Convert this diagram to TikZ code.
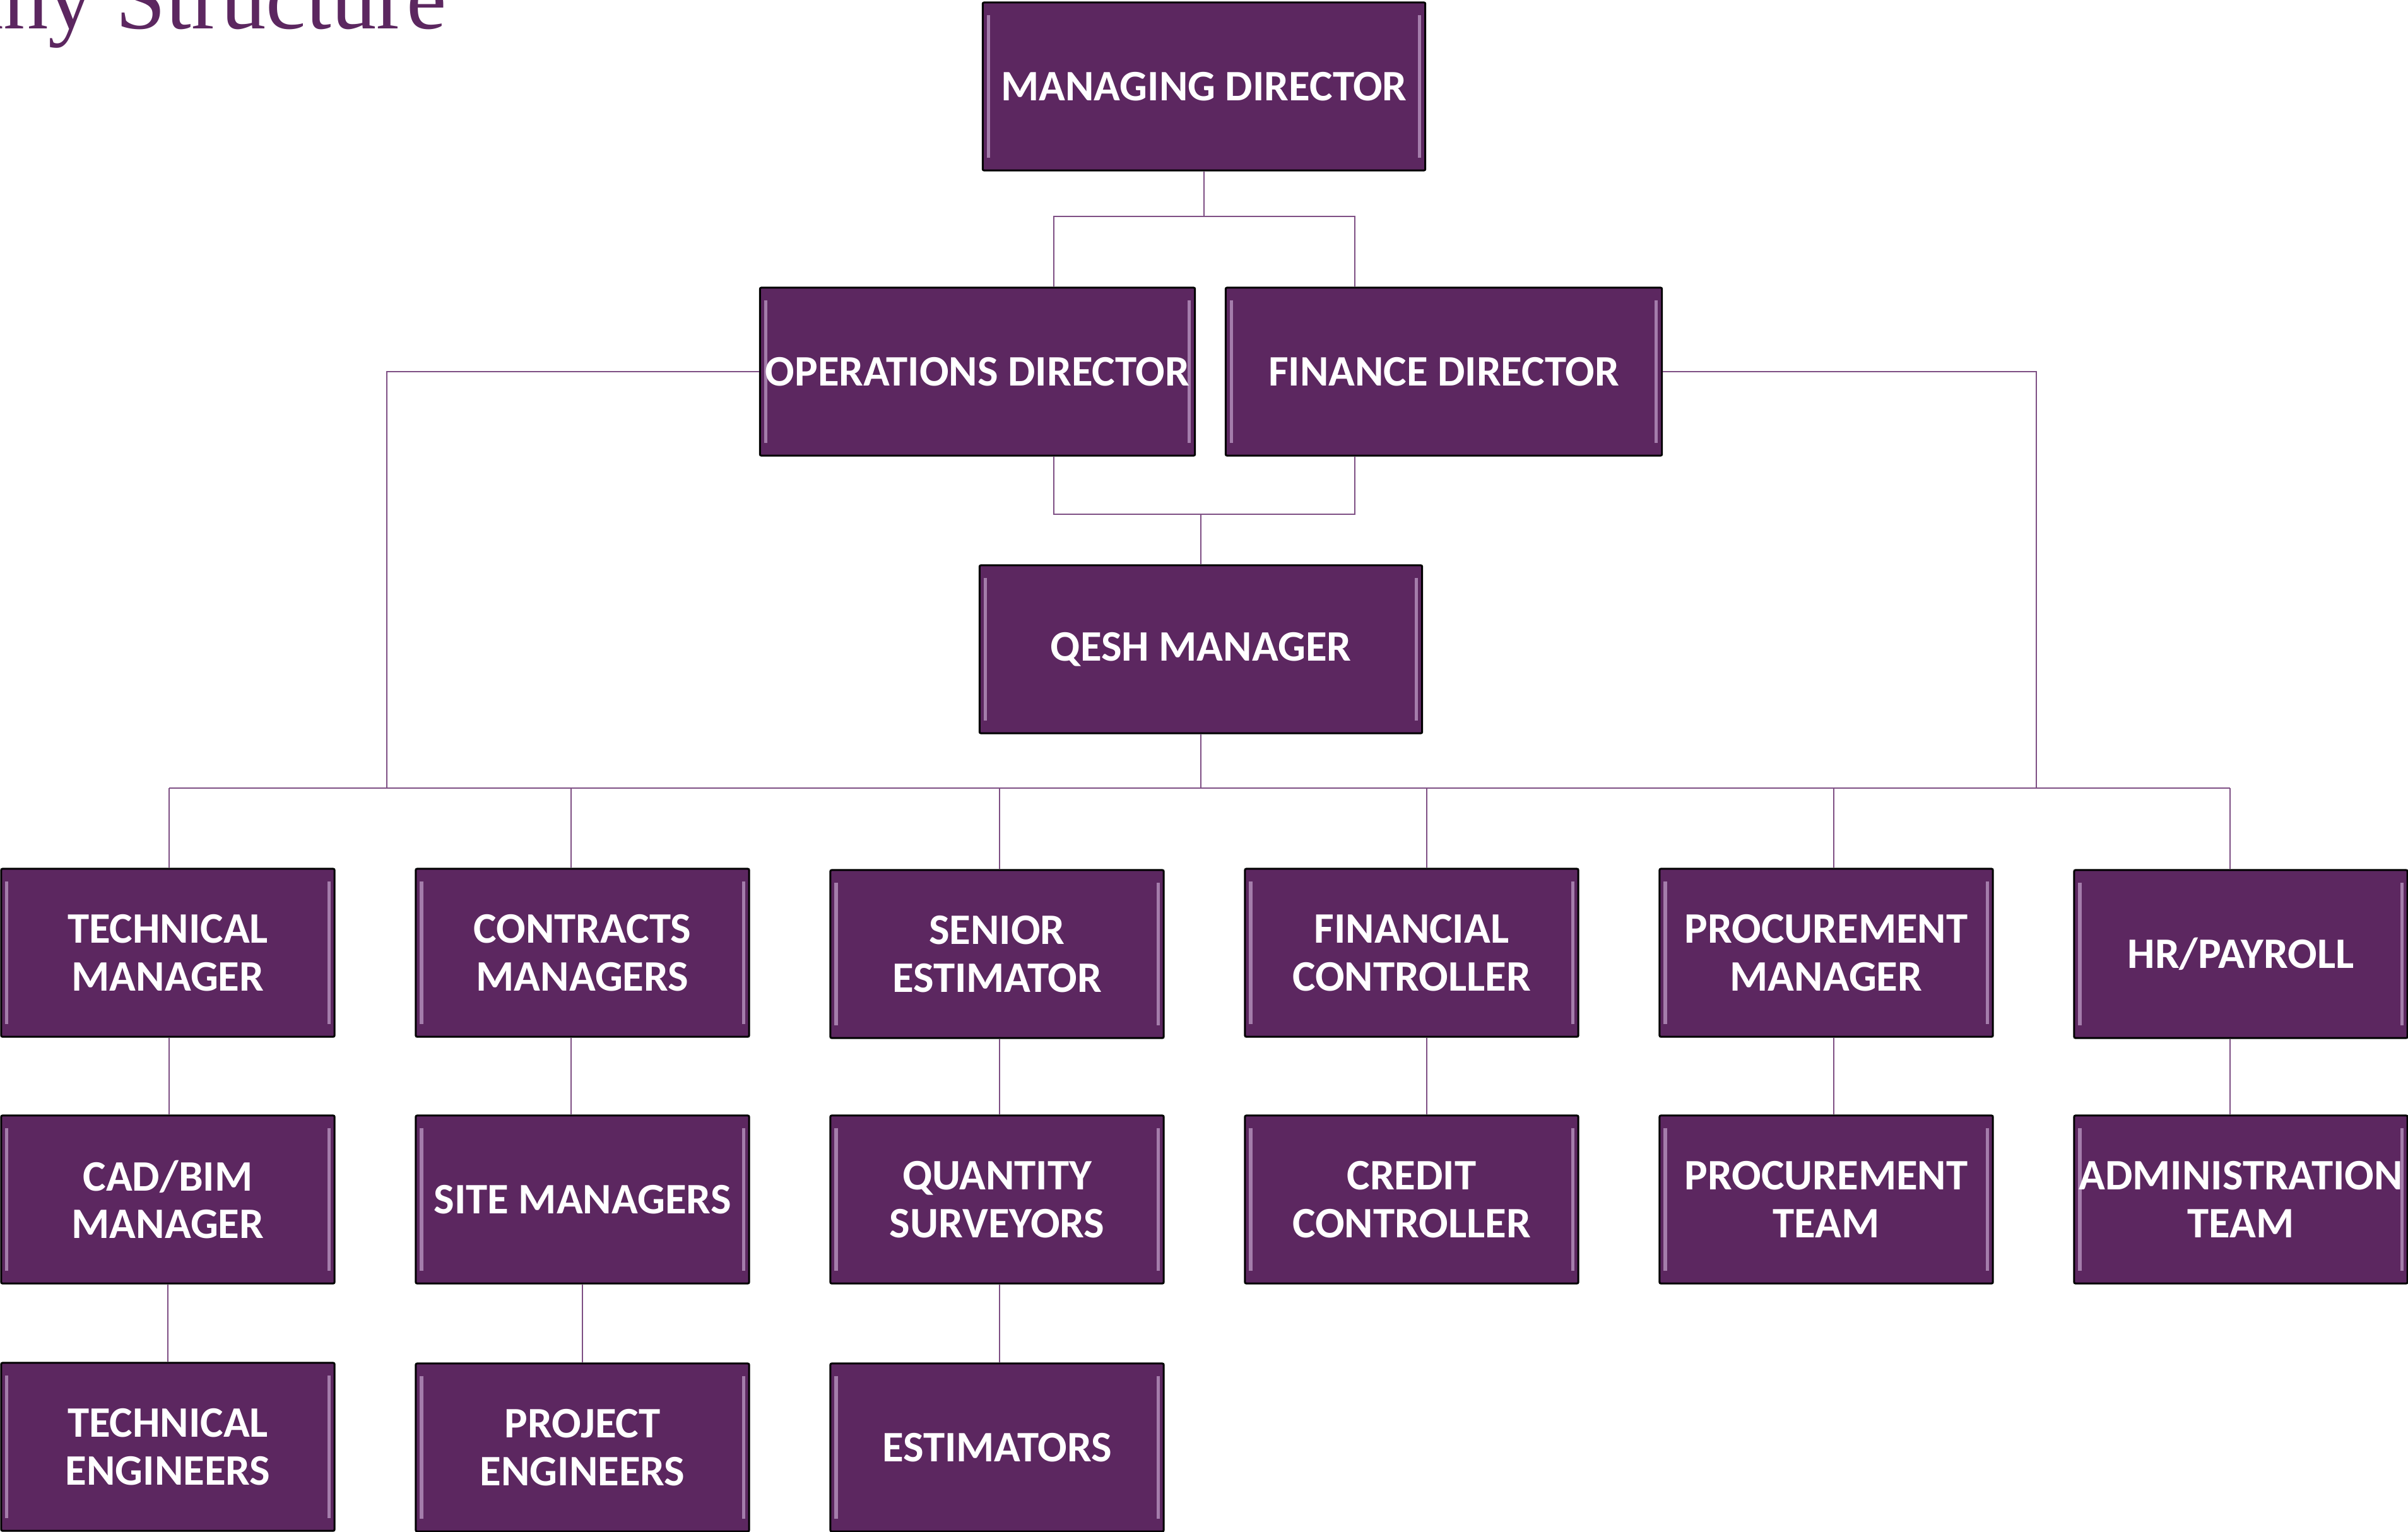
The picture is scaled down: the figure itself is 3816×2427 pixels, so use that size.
\documentclass[tikz,border=0pt]{standalone}
\usepackage{fontspec}
\usepackage{xcolor}
\usepackage{tikz}
\usetikzlibrary{calc}
\newfontfamily\postfont{Carlito}
\newfontfamily\titlefont{Liberation Serif}
\definecolor{postfill}{RGB}{92,39,96}
\definecolor{linkcol}{RGB}{126,79,132}
\definecolor{bevelcol}{RGB}{164,125,171}
\tikzstyle{post}=[rectangle, draw=black, fill=postfill, line width=0.85pt,% plain purple box
rounded corners=0.6pt, text=white, align=center, inner sep=0pt,
font=\postfont\bfseries\fontsize{19.6}{21.5}\selectfont,
minimum width=5.28cm, minimum height=2.66cm,
path picture={
\draw[bevelcol, line width=1.5pt] ([xshift=0.09cm,yshift=-0.2cm]path picture bounding box.north west) -- ([xshift=0.09cm,yshift=0.2cm]path picture bounding box.south west);
\draw[bevelcol, line width=1.5pt] ([xshift=-0.09cm,yshift=-0.2cm]path picture bounding box.north east) -- ([xshift=-0.09cm,yshift=0.2cm]path picture bounding box.south east);
}]
\tikzstyle{link}=[draw=linkcol, line width=0.6pt]

\begin{document}
\begin{tikzpicture}[x=0.01cm, y=-0.01cm]
\useasboundingbox (0,0) rectangle (3816,2427);
\clip (0,0) rectangle (3816,2427);
\node[anchor=base east, text=postfill, font=\titlefont\fontsize{40.6}{44}\selectfont, inner sep=0pt] (title) at (708,45) {Company Structure};

\node[post, minimum width=7.01cm] (md) at (1908,137) {MANAGING DIRECTOR};
\node[post, minimum width=6.89cm] (ops) at (1549,589) {OPERATIONS DIRECTOR};
\node[post, minimum width=6.91cm] (fin) at (2288,589) {FINANCE DIRECTOR};
\node[post, minimum width=7.01cm] (qesh) at (1903,1029) {QESH MANAGER};

\node[post] (tm) at (266,1510) {TECHNICAL\\MANAGER};
\node[post] (cm) at (923,1510) {CONTRACTS\\MANAGERS};
\node[post] (se) at (1580,1512) {SENIOR\\ESTIMATOR};
\node[post] (fc) at (2237,1510) {FINANCIAL\\CONTROLLER};
\node[post] (pm) at (2894,1510) {PROCUREMENT\\MANAGER};
\node[post] (hr) at (3551,1512) {HR/PAYROLL};

\node[post] (cad) at (266,1901) {CAD/BIM\\MANAGER};
\node[post] (site) at (923,1901) {SITE MANAGERS};
\node[post] (qs) at (1580,1901) {QUANTITY\\SURVEYORS};
\node[post] (cc) at (2237,1901) {CREDIT\\CONTROLLER};
\node[post] (pt) at (2894,1901) {PROCUREMENT\\TEAM};
\node[post] (adm) at (3551,1901) {ADMINISTRATION\\TEAM};

\node[post] (te) at (266,2293) {TECHNICAL\\ENGINEERS};
\node[post] (pe) at (923,2294) {PROJECT\\ENGINEERS};
\node[post] (est) at (1580,2294) {ESTIMATORS};

% junctions
\coordinate (t1) at (1670,343);
\coordinate (t2) at (2147,343);
\coordinate (q1) at (1670,815);
\coordinate (q2) at (2147,815);
\coordinate (l1) at (613,1249);
\coordinate (r1) at (3227,1249);
\coordinate (b1) at (268,1249);
\coordinate (b2) at (905,1249);
\coordinate (b3) at (1584,1249);
\coordinate (b4) at (2261,1249);
\coordinate (b5) at (2906,1249);
\coordinate (b6) at (3534,1249);

\draw[link] (md.south) -- (md.south |- t1);
\draw[link] (ops.north -| t1) -- (t1) -- (t2) -- (fin.north -| t2);
\draw[link] (ops.south -| q1) -- (q1) -- (q2) -- (fin.south -| q2);
\draw[link] (qesh.north) -- (qesh.north |- q1);
\draw[link] (qesh.south) -- (qesh.south |- b1);
\draw[link] (ops.west) -| (l1);
\draw[link] (fin.east) -| (r1);
\draw[link] (b1) -- (b6);

\draw[link] (b1) -- (b1 |- tm.north);
\draw[link] (b2) -- (b2 |- cm.north);
\draw[link] (b3) -- (b3 |- se.north);
\draw[link] (b4) -- (b4 |- fc.north);
\draw[link] (b5) -- (b5 |- pm.north);
\draw[link] (b6) -- (b6 |- hr.north);

\draw[link] (tm.south -| b1) -- (cad.north -| b1);
\draw[link] (cm.south -| b2) -- (site.north -| b2);
\draw[link] (se.south -| b3) -- (qs.north -| b3);
\draw[link] (fc.south -| b4) -- (cc.north -| b4);
\draw[link] (pm.south -| b5) -- (pt.north -| b5);
\draw[link] (hr.south -| b6) -- (adm.north -| b6);

\draw[link] (cad) -- (te);
\draw[link] (site) -- (pe);
\draw[link] (qs.south -| b3) -- (est.north -| b3);
\end{tikzpicture}
\end{document}
